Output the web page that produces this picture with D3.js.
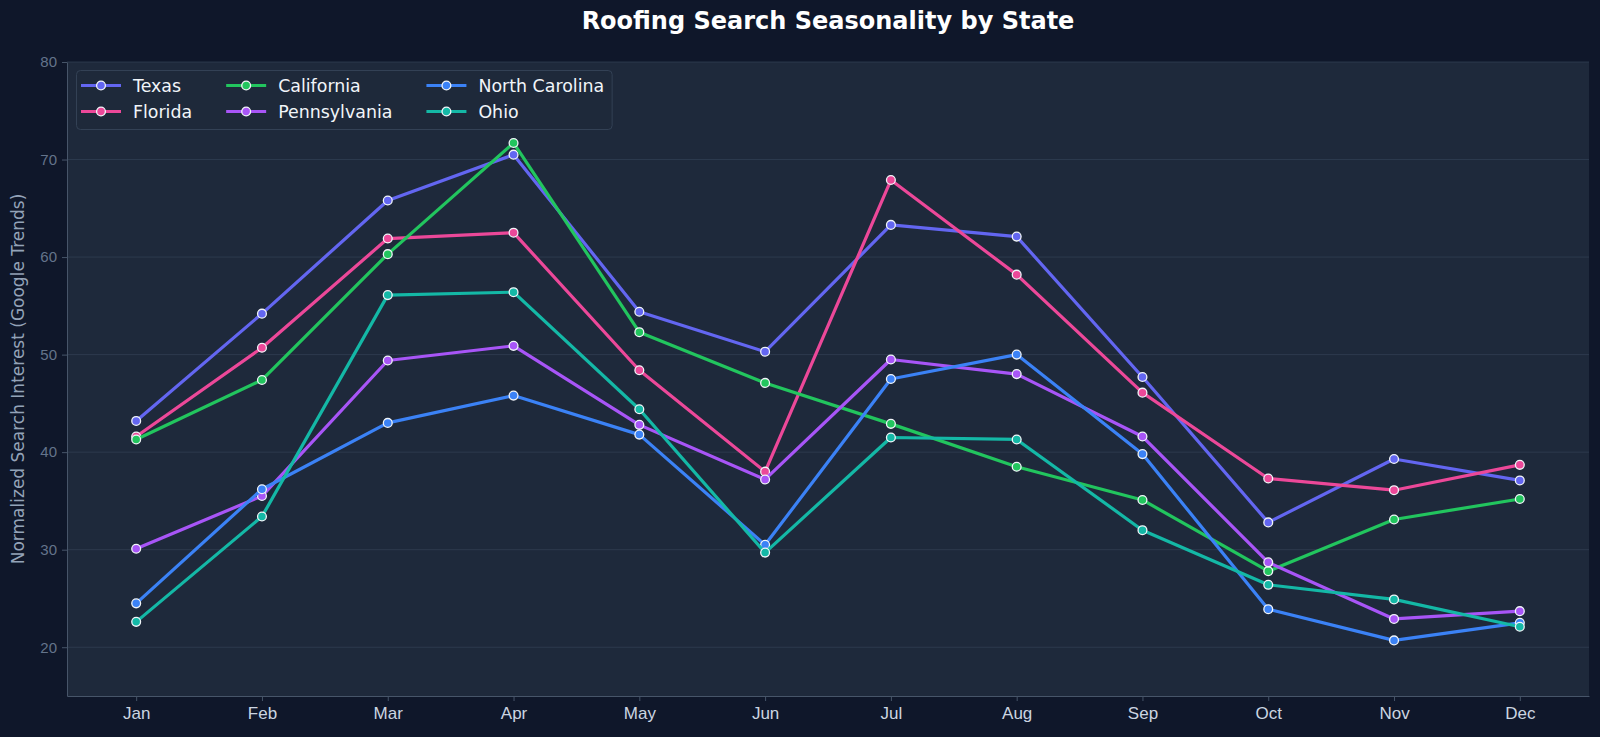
<!DOCTYPE html>
<html>
<head>
<meta charset="utf-8">
<script src="https://cdn.jsdelivr.net/npm/d3@7"></script>
<style>
    body { margin: 0; background: #0f172a; }
    svg { display: block; font-family: "DejaVu Sans", sans-serif; }
    .chart-title { fill: #ffffff; font-size: 24px; font-weight: bold; text-anchor: middle; }
    .axes-label { fill: #94a3b8; font-size: 17px; text-anchor: middle; }
    .y-axis text { fill: #64748b; font-size: 15px; }
    .x-axis text { fill: #cbd5e1; font-size: 17px; }
    .legend-text { fill: #f1f5f9; font-size: 17.4px; }
</style>
</head>
<body>
<div id="chart"></div>
<script>
// months along the x axis
const months = ['Jan', 'Feb', 'Mar', 'Apr', 'May', 'Jun', 'Jul', 'Aug', 'Sep', 'Oct', 'Nov', 'Dec'];

// state names and colours, in legend order
const states = ['Texas', 'Florida', 'California', 'Pennsylvania', 'North Carolina', 'Ohio'];
const colors = ['#6366f1', '#ec4899', '#22c55e', '#a855f7', '#3b82f6', '#14b8a6'];

// search interest per state
const texas = [43.2, 54.2, 65.8, 70.5, 54.4, 50.3, 63.3, 62.1, 47.7, 32.8, 39.3, 37.1];
const florida = [41.6, 50.7, 61.9, 62.5, 48.4, 38.0, 67.9, 58.2, 46.1, 37.3, 36.1, 38.7];
const california = [41.3, 47.4, 60.3, 71.7, 52.3, 47.1, 42.9, 38.5, 35.1, 27.8, 33.1, 35.2];
const pennsylvania = [30.1, 35.5, 49.4, 50.9, 42.8, 37.2, 49.5, 48.0, 41.6, 28.7, 22.9, 23.7];
const northCarolina = [24.5, 36.2, 43.0, 45.8, 41.8, 30.5, 47.5, 50.0, 39.8, 23.9, 20.7, 22.5];
const ohio = [22.6, 33.4, 56.1, 56.4, 44.4, 29.7, 41.5, 41.3, 32.0, 26.4, 24.9, 22.1];

// y axis range and ticks
const yDomain = [15, 80];
const yTicks = [20, 30, 40, 50, 60, 70, 80];

const series = [texas, florida, california, pennsylvania, northCarolina, ohio]
    .map((values, i) => ({name: states[i], color: colors[i], values: values}));

let margin = {top: 62, left: 67, right: 11, bottom: 41},
    width = 1600,
    height = 737,
    yLabelText = 'Normalized Search Interest (Google Trends)',
    title = 'Roofing Search Seasonality by State';

let svg = d3.select('#chart')
    .append('svg')
    .attr('width', width)
    .attr('height', height);

// figure background
svg.append('rect')
    .attr('width', width)
    .attr('height', height)
    .attr('fill', '#0f172a');

// x scale with matplotlib-like 5% padding
let xScale = d3.scalePoint()
        .domain(months)
        .range([margin.left, width - margin.right])
        .padding(0.55),

    yScale = d3.scaleLinear()
        .domain(yDomain)
        .range([height - margin.bottom, margin.top]);

// plot background
svg.append('rect')
    .attr('x', margin.left)
    .attr('y', margin.top)
    .attr('width', width - margin.left - margin.right)
    .attr('height', height - margin.top - margin.bottom)
    .attr('fill', '#1e293b');

// horizontal grid lines
svg.append('g')
    .selectAll('line')
    .data(yTicks)
    .join('line')
    .attr('x1', margin.left)
    .attr('x2', width - margin.right)
    .attr('y1', d => yScale(d))
    .attr('y2', d => yScale(d))
    .attr('stroke', '#334155')
    .attr('stroke-opacity', 0.7)
    .attr('stroke-width', 1);

// append x axis
let xAxis = svg.append('g')
    .classed('x-axis', true)
    .attr('transform', `translate(0,${height - margin.bottom})`)
    .call(d3.axisBottom(xScale).tickSize(5).tickSizeOuter(0).tickPadding(6));
xAxis.select('.domain').attr('stroke', '#475569');
xAxis.selectAll('.tick line').attr('stroke', '#475569');
xAxis.selectAll('text').attr('font-family', null).attr('font-size', null);

// append y axis
let yAxis = svg.append('g')
    .classed('y-axis', true)
    .attr('transform', `translate(${margin.left},0)`)
    .call(d3.axisLeft(yScale).tickValues(yTicks).tickSize(5).tickSizeOuter(0).tickPadding(5));
yAxis.select('.domain').attr('stroke', '#475569');
yAxis.selectAll('.tick line').attr('stroke', '#475569');
yAxis.selectAll('text').attr('font-family', null).attr('font-size', null);

// append y axis label
svg.append('text')
    .classed('axes-label', true)
    .attr('transform', `translate(24,${(margin.top + height - margin.bottom) / 2}) rotate(-90)`)
    .text(yLabelText);

// append title
svg.append('text')
    .classed('chart-title', true)
    .attr('x', (margin.left + width - margin.right) / 2)
    .attr('y', 29)
    .text(title);

let line = d3.line()
    .x((d, i) => xScale(months[i]))
    .y(d => yScale(d));

// one group per state: line then markers
let groups = svg.append('g')
    .selectAll('g')
    .data(series)
    .join('g');

groups.append('path')
    .attr('d', d => line(d.values))
    .attr('fill', 'none')
    .attr('stroke', d => d.color)
    .attr('stroke-width', 3.2)
    .attr('stroke-linejoin', 'round');

groups.selectAll('circle')
    .data(d => d.values.map((v, i) => ({v: v, i: i, color: d.color})))
    .join('circle')
    .attr('cx', d => xScale(months[d.i]))
    .attr('cy', d => yScale(d.v))
    .attr('r', 4.4)
    .attr('fill', d => d.color)
    .attr('stroke', '#f1f5f9')
    .attr('stroke-width', 1.3);

// legend, 3 columns filled column by column
let legend = svg.append('g');
let legendBox = legend.append('rect')
    .attr('x', 76.5)
    .attr('y', 70.5)
    .attr('rx', 4)
    .attr('fill', '#1e293b')
    .attr('fill-opacity', 0.9)
    .attr('stroke', '#334155')
    .attr('stroke-width', 1);

let colX = 81,
    rowY = [85.5, 111.5],
    legendRight = 0;
for (let c = 0; c < 3; c++) {
    let maxW = 0;
    for (let r = 0; r < 2; r++) {
        let s = series[c * 2 + r];
        let item = legend.append('g').attr('transform', `translate(${colX},${rowY[r]})`);
        item.append('line')
            .attr('x1', 0).attr('x2', 40)
            .attr('stroke', s.color)
            .attr('stroke-width', 3.2);
        item.append('circle')
            .attr('cx', 20)
            .attr('r', 4.4)
            .attr('fill', s.color)
            .attr('stroke', '#f1f5f9')
            .attr('stroke-width', 1.3);
        let t = item.append('text')
            .classed('legend-text', true)
            .attr('x', 52)
            .attr('dy', '0.35em')
            .text(s.name);
        maxW = Math.max(maxW, t.node().getComputedTextLength());
    }
    legendRight = colX + 52 + maxW;
    colX = legendRight + 34;
}
legendBox
    .attr('width', legendRight + 8 - 76.5)
    .attr('height', 59);
</script>
</body>
</html>
